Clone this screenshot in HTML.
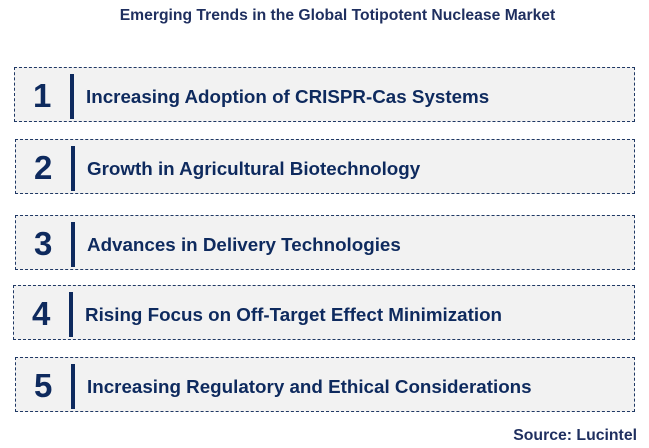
<!DOCTYPE html>
<html><head><style>
body{margin:0;width:649px;height:448px;background:#fff;font-family:"Liberation Sans",Arial,sans-serif;position:relative;overflow:hidden}
.t{position:absolute;top:7px;left:0;width:675px;text-align:center;font-size:15.7px;font-weight:bold;color:#1f2f5f}
.b{position:absolute;height:55px;background:#f2f2f2;border:1px dashed #1f3864;box-sizing:border-box}
.n{position:absolute;left:18px;top:11px;font-size:33px;font-weight:bold;color:#0e2a5e;line-height:34px}
.bar{position:absolute;left:55px;top:6px;width:4px;height:45px;background:#0e2a5e}
.x{position:absolute;left:71px;top:17px;font-size:18.8px;font-weight:bold;color:#0e2a5e;line-height:24px;white-space:nowrap}
.s{position:absolute;right:12px;top:427px;font-size:15.8px;font-weight:bold;color:#1f2f5f}
</style></head><body>
<div class="t">Emerging Trends in the Global Totipotent Nuclease Market</div>
<div class="b" style="left:14px;top:67px;width:621px"><div class="n">1</div><div class="bar"></div><div class="x">Increasing Adoption of CRISPR-Cas Systems</div></div>
<div class="b" style="left:15px;top:139px;width:620px"><div class="n">2</div><div class="bar"></div><div class="x">Growth in Agricultural Biotechnology</div></div>
<div class="b" style="left:15px;top:215px;width:620px"><div class="n">3</div><div class="bar"></div><div class="x">Advances in Delivery Technologies</div></div>
<div class="b" style="left:13px;top:285px;width:622px"><div class="n">4</div><div class="bar"></div><div class="x">Rising Focus on Off-Target Effect Minimization</div></div>
<div class="b" style="left:15px;top:357px;width:620px"><div class="n">5</div><div class="bar"></div><div class="x">Increasing Regulatory and Ethical Considerations</div></div>
<div class="s">Source: Lucintel</div>
</body></html>
